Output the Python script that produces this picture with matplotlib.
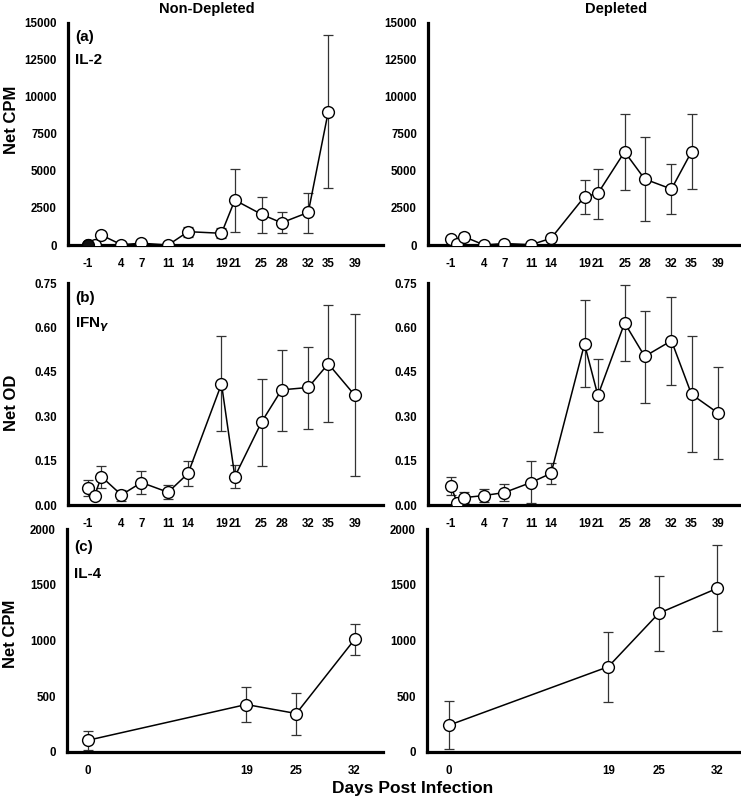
import numpy as np
import matplotlib
matplotlib.use("Agg")
import matplotlib.pyplot as plt

plt.rcParams['font.family'] = ['Liberation Sans', 'DejaVu Sans']
plt.rcParams['font.weight'] = 'bold'

# days post infection
days_long = [-1, 0, 1, 4, 7, 11, 14, 19, 21, 25, 28, 32, 35, 39]
days_short = [0, 19, 25, 32]
ticks_long = [-1, 4, 7, 11, 14, 19, 21, 25, 28, 32, 35, 39]
ticks_short = [0, 19, 25, 32]

# (a) IL-2, Net CPM (no day 39)
il2_nd = [0, 0, 670, 20, 120, 0, 900, 790, 3030, 2070, 1500, 2200, 9000]
il2_nd_hi = [60, 60, 900, 60, 220, 40, 1240, 1120, 5120, 3260, 2200, 3530, 14200]
il2_nd_lo = [0, 0, 450, 0, 40, 0, 520, 450, 850, 830, 790, 830, 3820]
il2_d = [380, 50, 560, 0, 100, 20, 450, 3260, 3480, 6290, 4450, 3775, 6290]
il2_d_hi = [420, 80, 790, 40, 160, 60, 660, 4380, 5120, 8870, 7300, 5460, 8870]
il2_d_lo = [340, 20, 330, 0, 40, 0, 240, 2090, 1750, 3700, 1620, 2090, 3750]

# (b) IFN-gamma, Net OD
ifn_nd = [0.059, 0.032, 0.096, 0.034, 0.076, 0.043, 0.107, 0.409, 0.096, 0.280, 0.389, 0.397, 0.477, 0.370]
ifn_nd_hi = [0.085, 0.040, 0.133, 0.051, 0.115, 0.068, 0.150, 0.570, 0.135, 0.426, 0.524, 0.533, 0.674, 0.645]
ifn_nd_lo = [0.032, 0.024, 0.056, 0.014, 0.037, 0.019, 0.064, 0.251, 0.059, 0.133, 0.251, 0.257, 0.280, 0.098]
ifn_d = [0.064, 0.006, 0.025, 0.032, 0.042, 0.076, 0.107, 0.544, 0.370, 0.615, 0.502, 0.555, 0.374, 0.310]
ifn_d_hi = [0.096, 0.017, 0.043, 0.054, 0.070, 0.147, 0.143, 0.691, 0.494, 0.744, 0.656, 0.702, 0.570, 0.466]
ifn_d_lo = [0.034, 0.000, 0.008, 0.009, 0.014, 0.006, 0.070, 0.398, 0.246, 0.485, 0.344, 0.406, 0.178, 0.156]

# (c) IL-4, Net CPM
il4_nd = [105, 426, 345, 1010]
il4_nd_hi = [186, 585, 531, 1145]
il4_nd_lo = [21, 270, 156, 870]
il4_d = [240, 765, 1244, 1469]
il4_d_hi = [456, 1073, 1574, 1853]
il4_d_lo = [30, 450, 905, 1085]

W, H = 741, 800
fig = plt.figure(figsize=(W / 100, H / 100), dpi=100)


def make_ax(x0, x1, ytop, ybot):
    return fig.add_axes([x0 / W, 1 - ybot / H, (x1 - x0) / W, (ybot - ytop) / H])


def style(ax, xticks, xlim, ylim, yticks, yfmt):
    for s in ("top", "right"):
        ax.spines[s].set_visible(False)
    for s in ("left", "bottom"):
        ax.spines[s].set_linewidth(2.3)
    ax.set_xlim(*xlim)
    ax.set_ylim(*ylim)
    ax.set_xticks(xticks)
    ax.set_xticklabels([str(t) for t in xticks], fontsize=8.3, fontweight='bold')
    ax.set_yticks(yticks)
    ax.set_yticklabels([yfmt.format(t) for t in yticks], fontsize=8.3, fontweight='bold')
    ax.tick_params(axis='x', length=0, pad=9.5)
    ax.tick_params(axis='y', length=0, pad=8)


def plot_series(ax, x, y, hi, lo, first_dark=False):
    x = np.array(x[:len(y)])
    y = np.array(y)
    err = [y - np.array(lo), np.array(hi) - y]
    ax.errorbar(x, y, yerr=err, fmt='none', ecolor='#333333', elinewidth=0.9,
                capsize=3.6, capthick=0.9, zorder=2)
    ax.plot(x, y, '-', color='black', lw=1.1, zorder=3)
    ax.plot(x, y, 'o', mfc='white', mec='black', mew=1.0, ms=8.5, zorder=4)
    if first_dark:
        ax.plot(x[:1], y[:1], 'o', mfc='#111111', mec='black', ms=8.5, zorder=5)


def panel_text(ax, letter, name, y1, y2):
    ax.text(0.022, y1, letter, transform=ax.transAxes, fontsize=11, fontweight='bold', va='center')
    ax.text(0.022, y2, name, transform=ax.transAxes, fontsize=11, fontweight='bold', va='center')


def ylab(ax, text, ycen):
    ax.set_ylabel(text, fontsize=12, fontweight='bold')
    ax.yaxis.set_label_coords(-0.155, ycen)


lim_l = (-4.0, 43.2)
lim_r = (-4.4, 42.4)
lim_sl = (-2.5, 35.4)
lim_sr = (-2.6, 34.8)

# row 1: IL-2
ax = make_ax(68, 383, 22.7, 245)
style(ax, ticks_long, lim_l, (0, 15000), range(0, 15001, 2500), "{}")
plot_series(ax, days_long, il2_nd, il2_nd_hi, il2_nd_lo, first_dark=True)
panel_text(ax, "(a)", "IL-2", 0.937, 0.83)
ylab(ax, "Net CPM", 0.563)

ax = make_ax(428, 741, 22.7, 245)
style(ax, ticks_long, lim_r, (0, 15000), range(0, 15001, 2500), "{}")
plot_series(ax, days_long, il2_d, il2_d_hi, il2_d_lo)

# row 2: IFN-gamma
ax = make_ax(68, 383, 283, 505)
style(ax, ticks_long, lim_l, (0, 0.75), [0, 0.15, 0.30, 0.45, 0.60, 0.75], "{:.2f}")
plot_series(ax, days_long, ifn_nd, ifn_nd_hi, ifn_nd_lo)
panel_text(ax, "(b)", "IFN$_{\\gamma}$", 0.932, 0.81)
ylab(ax, "Net OD", 0.46)

ax = make_ax(428, 741, 283, 505)
style(ax, ticks_long, lim_r, (0, 0.75), [0, 0.15, 0.30, 0.45, 0.60, 0.75], "{:.2f}")
plot_series(ax, days_long, ifn_d, ifn_d_hi, ifn_d_lo)

# row 3: IL-4
ax = make_ax(67, 383, 529, 752)
style(ax, ticks_short, lim_sl, (0, 2000), range(0, 2001, 500), "{}")
plot_series(ax, days_short, il4_nd, il4_nd_hi, il4_nd_lo)
panel_text(ax, "(c)", "IL-4", 0.919, 0.80)
ylab(ax, "Net CPM", 0.53)

ax = make_ax(427, 741, 529, 752)
style(ax, ticks_short, lim_sr, (0, 2000), range(0, 2001, 500), "{}")
plot_series(ax, days_short, il4_d, il4_d_hi, il4_d_lo)

fig.text(207 / W, 1 - 9 / H, "Non-Depleted", ha='center', va='center', fontsize=10.5, fontweight='bold')
fig.text(616 / W, 1 - 9 / H, "Depleted", ha='center', va='center', fontsize=10.5, fontweight='bold')
fig.text(413 / W, 1 - 788 / H, "Days Post Infection", ha='center', va='center', fontsize=12.5, fontweight='bold')

fig.savefig("out.png", dpi=100)
